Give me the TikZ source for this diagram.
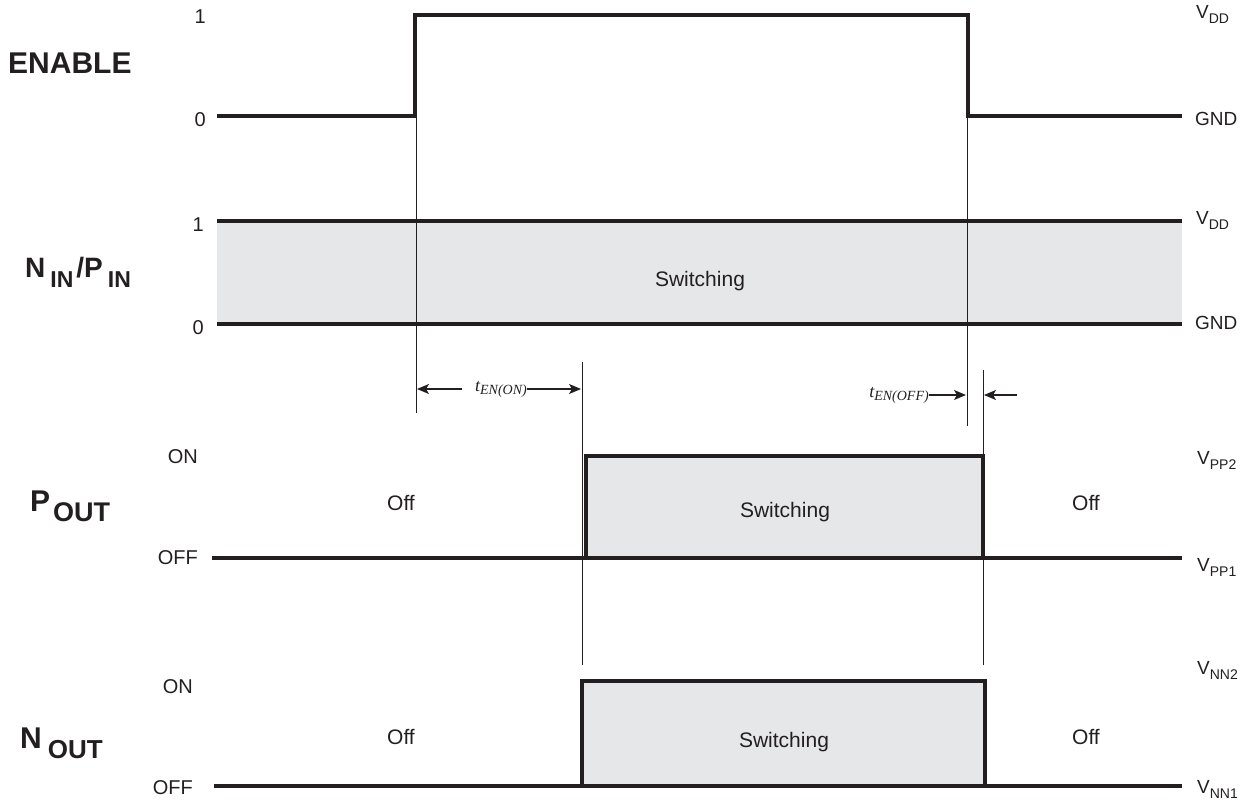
\documentclass[tikz,border=0pt]{standalone}
\usepackage{fontspec}
\setmainfont{Liberation Sans}
\newfontfamily\tfont{Liberation Serif}
\usetikzlibrary{arrows.meta}
\definecolor{ink}{HTML}{231F20}
\definecolor{band}{HTML}{E6E7E8}
\begin{document}
\begin{tikzpicture}[x=1pt,y=-1pt,
  sig/.style={draw=ink,line width=3.5pt,line join=miter},
  guide/.style={draw=ink,line width=1pt},
  lvl/.style={font=\fontsize{20}{22}\selectfont,text=ink,inner sep=0pt},
  rlab/.style={font=\fontsize{19}{22}\selectfont,text=ink,inner sep=0pt,anchor=west},
  sname/.style={font=\fontsize{30}{32}\selectfont\bfseries,text=ink,inner sep=0pt},
  mid/.style={font=\fontsize{21}{24}\selectfont,text=ink,inner sep=0pt},
  tarrow/.style={draw=ink,line width=1.2pt,-{Stealth[length=12pt,width=10pt,inset=3pt]}},
  tlab/.style={font=\tfont\itshape\fontsize{18}{20}\selectfont,text=ink,inner sep=0pt}
]
\useasboundingbox (0,0) rectangle (1251,803);
% ---------- ENABLE ----------
\node[sname,anchor=west] (en) at (8,63) {ENABLE};
\node[lvl,anchor=east] (en1) at (206,17) {1};
\node[lvl,anchor=east] (en0) at (206,120) {0};
\draw[sig] (217,116) -- (415,116) -- (415,15) -- (968,15) -- (968,116) -- (1182,116);
\node[rlab] (envdd) at (1196,14) {V\raisebox{-5pt}{\fontsize{14}{16}\selectfont DD}};
\node[rlab] (engnd) at (1195,119) {GND};
% ---------- NIN/PIN ----------
\fill[band] (217,221) rectangle (1182,324);
\draw[sig] (217,221) -- (1182,221);
\draw[sig] (217,324) -- (1182,324);
\node[sname,anchor=west,font=\fontsize{28}{30}\selectfont\bfseries] (nin) at (25,272)
  {N\hspace{5pt}\raisebox{-10pt}{\fontsize{23}{24}\selectfont\bfseries IN}\hspace{3pt}/P\hspace{5pt}\raisebox{-10pt}{\fontsize{23}{24}\selectfont\bfseries IN}};
\node[lvl,anchor=east] (ni1) at (204,225) {1};
\node[lvl,anchor=east] (ni0) at (204,328) {0};
\node[mid] (nisw) at (700,281) {Switching};
\node[rlab] (nivdd) at (1196,220) {V\raisebox{-5pt}{\fontsize{14}{16}\selectfont DD}};
\node[rlab] (nignd) at (1195,323) {GND};
% ---------- guides ----------
\draw[guide] (416,116) -- (416,413);
\draw[guide] (967,116) -- (967,426);
\draw[guide] (582,362) -- (582,665);
\draw[guide] (983,370) -- (983,665);
% timing arrows
\node[tlab] (ton) at (501,389) {t\raisebox{-3pt}{\fontsize{14}{15}\selectfont EN(ON)}};
\coordinate (tonL) at (417,389);
\coordinate (tonR) at (581,389);
\draw[tarrow] (462,389) -- (tonL);
\draw[tarrow] (ton.east) -- (tonR);
\node[tlab] (toff) at (899,395) {t\raisebox{-3pt}{\fontsize{14}{15}\selectfont EN(OFF)}};
\coordinate (toffL) at (966,395);
\coordinate (toffR) at (984,395);
\draw[tarrow] (toff.east) -- (toffL);
\draw[tarrow] (1017,395) -- (toffR);
% ---------- P OUT ----------
\fill[band] (586,456) rectangle (983,558);
\draw[sig] (212,558) -- (1182,558);
\draw[sig] (586,558) -- (586,456) -- (983,456) -- (983,558);
\node[sname,anchor=west] (pout) at (30,506) {P\hspace{3pt}\raisebox{-10pt}{\fontsize{27}{28}\selectfont\bfseries OUT}};
\node[lvl,anchor=east] (pon) at (198,457) {ON};
\node[lvl,anchor=east] (poff) at (198,558) {OFF};
\node[mid] (poffl) at (401,503) {Off};
\node[mid] (psw) at (785,512) {Switching};
\node[mid] (poffr) at (1086,503) {Off};
\node[rlab] (pvpp2) at (1197,460) {V\raisebox{-5pt}{\fontsize{14}{16}\selectfont PP2}};
\node[rlab] (pvpp1) at (1197,567) {V\raisebox{-5pt}{\fontsize{14}{16}\selectfont PP1}};
% ---------- N OUT ----------
\fill[band] (582,681) rectangle (985,786);
\draw[sig] (214,786) -- (1182,786);
\draw[sig] (582,786) -- (582,681) -- (985,681) -- (985,786);
\node[sname,anchor=west] (nout) at (20,743) {N\hspace{6pt}\raisebox{-10pt}{\fontsize{26}{28}\selectfont\bfseries OUT}};
\node[lvl,anchor=east] (non) at (193,687) {ON};
\node[lvl,anchor=east] (noff) at (193,788) {OFF};
\node[mid] (noffl) at (401,737) {Off};
\node[mid] (nsw) at (784,742) {Switching};
\node[mid] (noffr) at (1086,737) {Off};
\node[rlab] (nvnn2) at (1197,670) {V\raisebox{-5pt}{\fontsize{14}{16}\selectfont NN2}};
\node[rlab] (nvnn1) at (1197,789) {V\raisebox{-5pt}{\fontsize{14}{16}\selectfont NN1}};
\end{tikzpicture}
\end{document}
